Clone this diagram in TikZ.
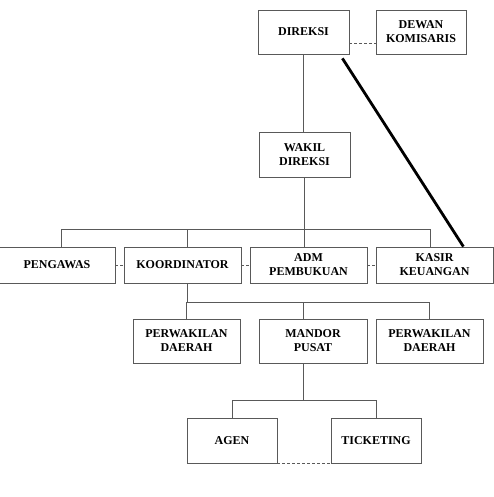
\documentclass[tikz,border=0pt]{standalone}
\usepackage{fontspec}
\setmainfont{Liberation Serif}
\newcommand\boxfont{\fontsize{12}{14}\selectfont\bfseries}

\begin{document}
\begin{tikzpicture}[
    x=1pt,y=-1pt,
    conn/.style={draw=black!65,line width=0.8pt},
    link/.style={conn,dash pattern=on 3pt off 2pt},
  ]
  \useasboundingbox (0,0) rectangle (494,497);
  \begin{scope}[
    every node/.style={
      draw=black!65,
      line width=0.8pt,
      align=center,
      inner sep=0pt,
      font=\boxfont,
    },
    ]
    \foreach \name/\xa/\xb/\ya/\yb/\txt in
    {direksi/258/349/10/54/DIREKSI,
     dewan/376/466/10/54/DEWAN\\KOMISARIS,
     wakil/259/350/132/177/WAKIL\\DIREKSI,
     pengawas/-1/115/247/283/PENGAWAS,
     koord/124/241/247/283/KOORDINATOR,
     adm/250/367/247/283/ADM\\PEMBUKUAN,
     kasir/376/493/247/283/KASIR\\KEUANGAN,
     perwa/133/240/319/363/PERWAKILAN\\DAERAH,
     mandor/259/367/319/363/MANDOR\\PUSAT,
     perwb/376/483/319/363/PERWAKILAN\\DAERAH,
     agen/187/277/418/463/AGEN,
     ticketing/331/421/418/463/TICKETING}
    {
      \node[minimum width={(\xb-\xa)*1pt},minimum height={(\yb-\ya)*1pt}]
        (\name) at ({(\xa+\xb)/2},{(\ya+\yb)/2}) {\txt};
    }
  \end{scope}
  \coordinate (busa) at (0,229);
  \coordinate (busb) at (0,302);
  \coordinate (busc) at (0,400);
  % direksi line
  \draw[conn] (direksi.south) -- (direksi.south |- wakil.north);
  \draw[link] ([yshift=11pt]direksi.south east) -- ([yshift=11pt]dewan.south west);
  \draw[line width=2.8pt] ([shift={(-7pt,-4pt)}]direksi.south east) -- ([xshift=-30pt]kasir.north east);
  % first level
  \draw[conn] (wakil.south) -- (wakil.south |- busa);
  \draw[conn] ([xshift=4pt]pengawas.north) -- ([xshift=4pt]pengawas.north |- busa)
    -- ([xshift=-4.5pt]kasir.north |- busa) -- ([xshift=-4.5pt]kasir.north);
  \draw[conn] ([xshift=4.5pt]koord.north) -- ([xshift=4.5pt]koord.north |- busa);
  \draw[conn] ([xshift=-4.5pt]adm.north) -- ([xshift=-4.5pt]adm.north |- busa);
  \foreach \a/\b in {pengawas/koord,koord/adm,adm/kasir}
  {
    \draw[link] (\a.east) -- (\b.west);
  }
  % second level
  \draw[conn] ([xshift=4.5pt]koord.south) -- ([xshift=4.5pt]koord.south |- busb);
  \draw[conn] (perwa.north) -- (perwa.north |- busb) -- (perwb.north |- busb) -- (perwb.north);
  \draw[conn] ([xshift=-10pt]mandor.north) -- ([xshift=-10pt]mandor.north |- busb);
  % third level
  \draw[conn] ([xshift=-10pt]mandor.south) -- ([xshift=-10pt]mandor.south |- busc);
  \draw[conn] (agen.north) -- (agen.north |- busc) -- (ticketing.north |- busc) -- (ticketing.north);
  \draw[link] (agen.south east) -- (ticketing.south west);
\end{tikzpicture}
\end{document}
